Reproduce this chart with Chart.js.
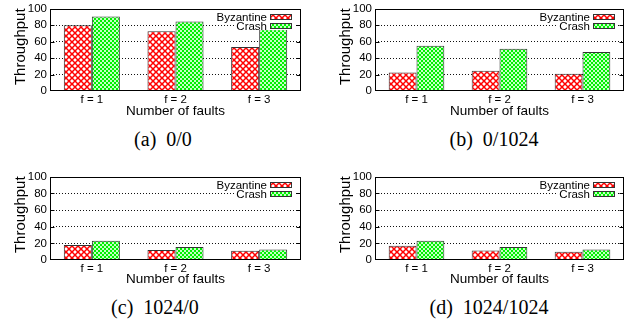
<!DOCTYPE html>
<html>
<head>
<meta charset="utf-8">
<script src="https://cdn.jsdelivr.net/npm/chart.js@4/dist/chart.umd.min.js"></script>
<style>
html, body { margin: 0; padding: 0; background: #fff; }
#wrap { position: relative; width: 634px; height: 324px; overflow: hidden; }
canvas { position: absolute; }
.cap {
    position: absolute; width: 220px; text-align: center; white-space: pre;
    font-family: "Liberation Serif", "Times New Roman", serif; font-size: 20px; line-height: 24px; color: #000;
}
</style>
</head>
<body>
<div id="wrap">
    <canvas id="c0" width="317" height="120" style="left:0;top:0"></canvas>
    <canvas id="c1" width="309" height="120" style="left:325px;top:0"></canvas>
    <canvas id="c2" width="317" height="120" style="left:0;top:168px"></canvas>
    <canvas id="c3" width="309" height="120" style="left:325px;top:168px"></canvas>
    <div class="cap" id="t0" style="left:53px;top:127px"></div>
    <div class="cap" id="t1" style="left:384px;top:127px"></div>
    <div class="cap" id="t2" style="left:45px;top:295px"></div>
    <div class="cap" id="t3" style="left:379px;top:295px"></div>
</div>
<script>
// データ
const categories = ['f = 1', 'f = 2', 'f = 3'];
const seriesNames = ['Byzantine', 'Crash'];
const captions = ['(a)  0/0', '(b)  0/1024', '(c)  1024/0', '(d)  1024/1024'];
const yTitle = 'Throughput';

const byzantine00 = [80, 72.5, 53.5];
const crash00     = [90.5, 84.5, 75];
const byzantine01 = [22.5, 24.5, 21];
const crash01     = [55, 51.5, 47.5];
const byzantine10 = [18, 12, 11];
const crash10     = [23, 15.5, 12.5];
const byzantine11 = [17, 11.5, 10];
const crash11     = [23, 15.5, 12.5];

const yMin = 0, yMax = 100, yStep = 20;

const SANS = '"Liberation Sans", Arial, Helvetica, sans-serif';

// 塗りつぶしパターン
function makeCrossPattern() {
    const c = document.createElement('canvas');
    c.width = 6; c.height = 6;
    const x = c.getContext('2d');
    x.fillStyle = '#fff';
    x.fillRect(0, 0, 6, 6);
    x.strokeStyle = '#ff0000';
    x.lineWidth = 1.5;
    x.beginPath();
    x.moveTo(-1, -1); x.lineTo(7, 7);
    x.moveTo(7, -1); x.lineTo(-1, 7);
    x.stroke();
    return x.createPattern(c, 'repeat');
}
function makeCheckPattern() {
    const c = document.createElement('canvas');
    c.width = 4; c.height = 4;
    const x = c.getContext('2d');
    x.fillStyle = '#c4ffc4';
    x.fillRect(0, 0, 4, 4);
    x.fillStyle = '#00f000';
    x.fillRect(0, 0, 2, 2);
    x.fillRect(2, 2, 2, 2);
    return x.createPattern(c, 'repeat');
}
const redFill = makeCrossPattern();
const greenFill = makeCheckPattern();

// 枠線・内向きの目盛り・縦軸タイトル・凡例
const framePlugin = {
    id: 'frame',
    afterDatasetsDraw(chart) {
        const { ctx, chartArea: a } = chart;
        const y = chart.scales.y;
        ctx.save();
        ctx.strokeStyle = '#000';
        ctx.lineWidth = 1;
        const l = Math.round(a.left) + 0.5, r = Math.round(a.right) - 0.5;
        const t = Math.round(a.top) + 0.5, b = Math.round(a.bottom) - 0.5;
        ctx.strokeRect(l, t, r - l, b - t);
        ctx.beginPath();
        for (let v = yMin + yStep; v < yMax; v += yStep) {
            const py = Math.round(y.getPixelForValue(v)) + 0.5;
            ctx.moveTo(l, py); ctx.lineTo(l + 4, py);
            ctx.moveTo(r, py); ctx.lineTo(r - 4, py);
        }
        ctx.stroke();

        // 縦軸タイトル
        ctx.save();
        ctx.translate(21, a.top + 38);
        ctx.rotate(-Math.PI / 2);
        ctx.font = '15px ' + SANS;
        ctx.fillStyle = '#000';
        ctx.textAlign = 'center';
        ctx.textBaseline = 'middle';
        ctx.fillText(yTitle, 0, 0);
        ctx.restore();

        // 凡例（文字の右側に見本）
        ctx.font = '11.5px ' + SANS;
        ctx.textAlign = 'right';
        ctx.textBaseline = 'middle';
        chart.data.datasets.forEach((ds, i) => {
            const cy = Math.round(a.top) + 8 + i * 9;
            const sx = Math.round(a.right) - 9 - 22;
            const tw = ctx.measureText(ds.label).width;
            ctx.fillStyle = '#fff';
            ctx.fillRect(sx - 3 - tw - 2, cy - 4, tw + 5 + 24, 8);
            ctx.fillStyle = '#000';
            ctx.fillText(ds.label, sx - 3, cy + 0.5);
            ctx.fillStyle = ds.backgroundColor;
            ctx.fillRect(sx, cy - 3, 22, 6);
            ctx.strokeStyle = '#333';
            ctx.strokeRect(sx + 0.5, cy - 2.5, 21, 5);
        });
        ctx.restore();
    }
};

const panels = [
    { id: 'c0', byz: byzantine00, crash: crash00, padRight: 16, xHeight: 29 },
    { id: 'c1', byz: byzantine01, crash: crash01, padRight: 10, xHeight: 29 },
    { id: 'c2', byz: byzantine10, crash: crash10, padRight: 16, xHeight: 28 },
    { id: 'c3', byz: byzantine11, crash: crash11, padRight: 10, xHeight: 28 }
];

panels.forEach((p, i) => {
    document.getElementById('t' + i).textContent = captions[i];
    const ctx = document.getElementById(p.id).getContext('2d');
    new Chart(ctx, {
        type: 'bar',
        data: {
            labels: categories,
            datasets: [
                {
                    label: seriesNames[0],
                    data: p.byz,
                    backgroundColor: redFill,
                    borderColor: '#333',
                    borderWidth: 1,
                    categoryPercentage: 0.67,
                    barPercentage: 1.0
                },
                {
                    label: seriesNames[1],
                    data: p.crash,
                    backgroundColor: greenFill,
                    borderColor: '#333',
                    borderWidth: 1,
                    categoryPercentage: 0.67,
                    barPercentage: 1.0
                }
            ]
        },
        options: {
            responsive: false,
            animation: false,
            layout: { padding: { top: 4, right: p.padRight, left: 0, bottom: 0 } },
            scales: {
                x: {
                    grid: { display: false, drawTicks: false },
                    border: { display: false },
                    ticks: { color: '#000', padding: 2, font: { family: SANS, size: 11.5 }, maxRotation: 0 },
                    title: {
                        display: true, text: 'Number of faults', color: '#000',
                        font: { family: SANS, size: 13.5 }, padding: { top: 0, bottom: 1 }
                    },
                    afterFit(scale) { scale.height = p.xHeight; }
                },
                y: {
                    min: yMin, max: yMax,
                    grid: {
                        drawTicks: false,
                        lineWidth: 1,
                        color: c => (c.tick && (c.tick.value === yMin || c.tick.value === yMax)) ? 'rgba(0,0,0,0)' : '#111'
                    },
                    border: { display: false, dash: [1, 2] },
                    ticks: {
                        stepSize: yStep, autoSkip: false, color: '#000', padding: 3,
                        font: { family: SANS, size: 11.5, lineHeight: 1 }
                    },
                    title: { display: false },
                    afterFit(scale) { scale.width = 50; }
                }
            },
            plugins: {
                legend: { display: false },
                tooltip: { enabled: false }
            }
        },
        plugins: [framePlugin]
    });
});
</script>
</body>
</html>
